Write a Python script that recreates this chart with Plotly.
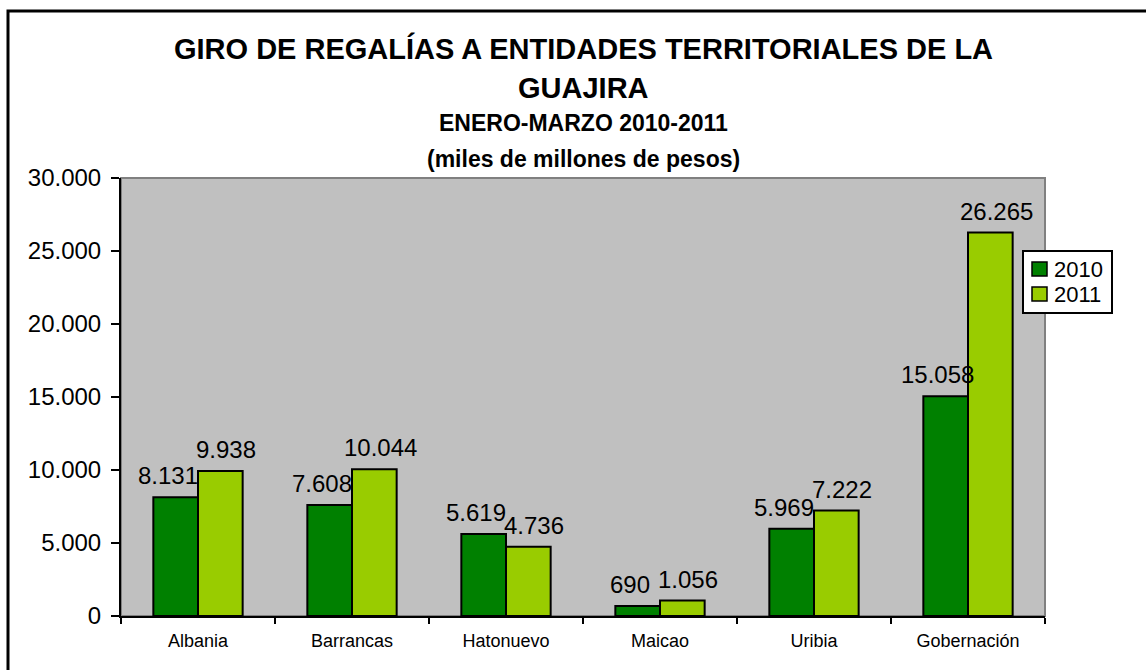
import plotly.graph_objects as go

categories = ["Albania", "Barrancas", "Hatonuevo", "Maicao", "Uribia", "Gobernación"]
values_2010 = [8131, 7608, 5619, 690, 5969, 15058]
values_2011 = [9938, 10044, 4736, 1056, 7222, 26265]
series_names = ["2010", "2011"]
series_colors = ["#008000", "#99CC00"]
y_ticks = [0, 5000, 10000, 15000, 20000, 25000, 30000]

W, H = 1146, 670
L, R, T, B = 121, 1045, 178, 616
PW, PH = R - L, B - T

def fmt(v):
    return f"{v:,}".replace(",", ".")

def px_x(p):
    return (p - L) / PW

def px_y(p):
    return (B - p) / PH

FONT = "Arial, Liberation Sans, sans-serif"

fig = go.Figure()
for name, vals, col in zip(series_names, [values_2010, values_2011], series_colors):
    fig.add_trace(go.Bar(
        name=name, x=categories, y=vals,
        marker=dict(color=col, line=dict(color="black", width=2)),
        showlegend=False,
    ))

# data labels above each bar
bar_half = PW / len(categories) * (1 - 0.42) / 4
for si, vals in enumerate([values_2010, values_2011]):
    shift = -bar_half - 8 if si == 0 else bar_half + 6
    for c, v in zip(categories, vals):
        fig.add_annotation(x=c, y=v, xref="x", yref="y", text=fmt(v),
                           showarrow=False, xanchor="center", yanchor="bottom",
                           xshift=shift, yshift=6,
                           font=dict(size=24, family=FONT, color="black"))

fig.update_layout(
    width=W, height=H,
    margin=dict(l=L, r=W - R, t=T, b=H - B),
    paper_bgcolor="white", plot_bgcolor="#C0C0C0",
    separators=",.",
    barmode="group", bargap=0.42, bargroupgap=0,
    font=dict(family=FONT, color="black"),
    showlegend=False,
    xaxis=dict(
        showline=True, linecolor="black", linewidth=2,
        ticks="outside", ticklen=6, tickcolor="black", tickwidth=2,
        tickson="boundaries", ticklabelstandoff=7,
        tickfont=dict(size=18, family=FONT, color="black"),
        showgrid=False, fixedrange=True,
    ),
    yaxis=dict(
        range=[0, 30000], tickvals=y_ticks, ticktext=[fmt(v) for v in y_ticks],
        showline=True, linecolor="black", linewidth=2,
        ticks="outside", ticklen=8, tickcolor="black", tickwidth=2,
        ticklabelstandoff=5,
        tickfont=dict(size=24, family=FONT, color="black"),
        showgrid=False, zeroline=False, fixedrange=True,
    ),
)

# plot-area frame (gray top/right)
fig.add_shape(type="rect", xref="paper", yref="paper", x0=0, x1=1, y0=0, y1=1,
              line=dict(color="#808080", width=2), layer="below")

# outer chart border (extends past the right/bottom edges)
fig.add_shape(type="rect", xref="paper", yref="paper",
              x0=px_x(8), x1=px_x(1200), y0=px_y(720), y1=px_y(11),
              line=dict(color="black", width=3), layer="above")

# legend box
fig.add_shape(type="rect", xref="paper", yref="paper",
              x0=px_x(1023), x1=px_x(1112), y0=px_y(313), y1=px_y(251),
              line=dict(color="black", width=2), fillcolor="white", layer="above")
for i, (name, col) in enumerate(zip(series_names, series_colors)):
    top = 262 + i * 25
    fig.add_shape(type="rect", xref="paper", yref="paper",
                  x0=px_x(1032), x1=px_x(1047), y0=px_y(top + 14), y1=px_y(top),
                  line=dict(color="black", width=1.5), fillcolor=col, layer="above")
    fig.add_annotation(text=name, xref="paper", yref="paper",
                       x=px_x(1053), y=px_y(top + 7), xanchor="left", yanchor="middle",
                       showarrow=False, borderpad=0,
                       font=dict(size=22, family=FONT, color="black"))

titles = [
    ("GIRO DE REGALÍAS A ENTIDADES TERRITORIALES DE LA", 49, 29),
    ("GUAJIRA", 88, 29),
    ("ENERO-MARZO 2010-2011", 123, 23),
    ("(miles de millones de pesos)", 159, 23),
]
for txt, yp, sz in titles:
    fig.add_annotation(text=f"<b>{txt}</b>", xref="paper", yref="paper",
                       x=0.5, y=px_y(yp), xanchor="center", yanchor="middle",
                       showarrow=False, font=dict(size=sz, family=FONT, color="black"))

fig.write_html("out.html")
